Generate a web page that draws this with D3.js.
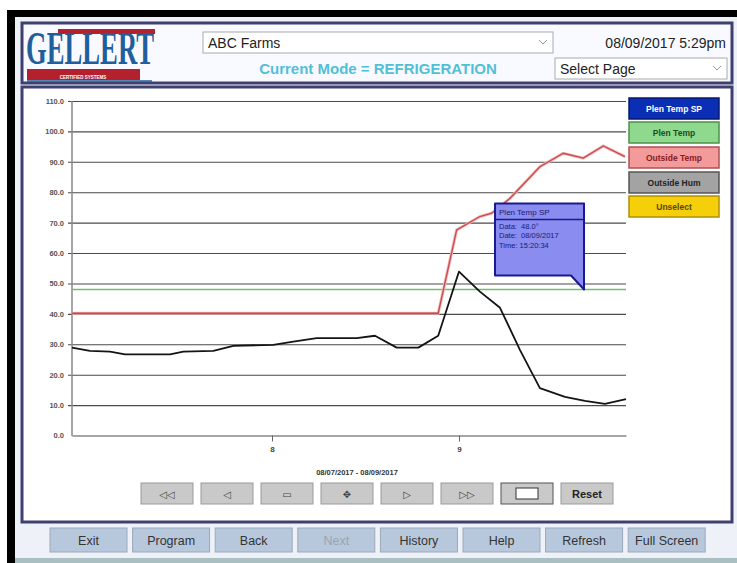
<!DOCTYPE html>
<html>
<head>
<meta charset="utf-8">
<script src="https://cdn.jsdelivr.net/npm/d3@7"></script>
<style>
  body { margin: 0; background: #fff; font-family: "Liberation Sans", Arial, sans-serif; }
</style>
</head>
<body>
<svg id="chart"></svg>
<script>
// ---- data ----
const timeDomain = ["2017-08-06 22:20", "2017-08-09 21:26"];
const dayTicks = ["2017-08-08 00:00", "2017-08-09 00:00"];
const yTicks = [0, 10, 20, 30, 40, 50, 60, 70, 80, 90, 100, 110];

// black trace
const plenTimes = ["2017-08-06 22:20", "2017-08-07 00:38", "2017-08-07 03:13", "2017-08-07 05:08",
  "2017-08-07 10:55", "2017-08-07 12:37", "2017-08-07 16:28", "2017-08-07 19:02", "2017-08-08 00:10",
  "2017-08-08 02:44", "2017-08-08 05:44", "2017-08-08 10:52", "2017-08-08 13:13", "2017-08-08 16:00",
  "2017-08-08 18:47", "2017-08-08 21:20", "2017-08-09 00:00", "2017-08-09 02:41", "2017-08-09 05:16",
  "2017-08-09 07:50", "2017-08-09 10:23", "2017-08-09 13:36", "2017-08-09 16:10", "2017-08-09 18:44",
  "2017-08-09 21:26"];
const plenValues = [28.9, 27.8, 27.6, 26.7, 26.7, 27.6, 27.8, 29.5, 29.8, 30.9, 32.0, 32.0, 32.8, 28.9,
  28.9, 32.8, 53.9, 47.3, 42.0, 28.1, 15.6, 12.7, 11.4, 10.4, 12.0];

// red trace
const outsideTimes = ["2017-08-06 22:20", "2017-08-08 21:20", "2017-08-08 23:42", "2017-08-09 02:41",
  "2017-08-09 04:12", "2017-08-09 06:33", "2017-08-09 10:23", "2017-08-09 13:23", "2017-08-09 15:57",
  "2017-08-09 18:31", "2017-08-09 21:18"];
const outsideValues = [40.2, 40.2, 67.6, 72.0, 73.1, 78.0, 88.4, 92.8, 91.2, 95.2, 91.7];

// green setpoint trace
const spTimes = ["2017-08-06 22:20", "2017-08-09 21:26"];
const spValues = [48.0, 48.0];

const legendLabels = ["Plen Temp SP", "Plen Temp", "Outside Temp", "Outside Hum", "Unselect"];
const navLabels = ["◁◁", "◁", "▭", "✥", "▷", "▷▷", "", "Reset"];
const footerLabels = ["Exit", "Program", "Back", "Next", "History", "Help", "Refresh", "Full Screen"];

const tipTitle = "Plen Temp SP";
const tipRows = ["Data:  48.0°", "Date:  08/09/2017", "Time: 15:20:34"];
const tipTime = "2017-08-09 15:55";
const tipValue = 48.0;

// ---- drawing ----
const W = 737, H = 563;
const parse = d3.timeParse("%Y-%m-%d %H:%M");
const font = '"Liberation Sans", Arial, sans-serif';

const svg = d3.select("#chart").attr("width", W).attr("height", H);

// screen frame
svg.append("rect").attr("width", W).attr("height", H).attr("fill", "#fff");
svg.append("rect").attr("x", 7).attr("y", 10).attr("width", 740).attr("height", 560).attr("fill", "#000");
svg.append("rect").attr("x", 15).attr("y", 17).attr("width", 730).attr("height", 550).attr("fill", "#eef2f8");
svg.append("rect").attr("x", 15).attr("y", 558).attr("width", 722).attr("height", 5).attr("fill", "#a9bfc2");

// header panel
svg.append("rect").attr("x", 22).attr("y", 23).attr("width", 710).attr("height", 60)
    .attr("fill", "#f9faff").attr("stroke", "#3f3f70").attr("stroke-width", 3);

// logo
const logo = svg.append("g");
logo.append("rect").attr("x", 58).attr("y", 29).attr("width", 97).attr("height", 5).attr("fill", "#b3212e");
logo.append("text").attr("transform", "translate(26,64) scale(0.58,1)")
    .attr("font-family", '"Liberation Serif", serif').attr("font-weight", "bold").attr("font-size", 46)
    .attr("fill", "#1f5f9e").text("GELLERT");
logo.append("rect").attr("x", 27).attr("y", 69).attr("width", 113).attr("height", 11).attr("fill", "#b3212e");
logo.append("text").attr("transform", "translate(83,79) scale(0.9,1)").attr("text-anchor", "middle")
    .attr("font-family", font).attr("font-weight", "bold").attr("font-size", 5)
    .attr("fill", "#fff").text("CERTIFIED SYSTEMS");
logo.append("line").attr("x1", 27).attr("x2", 152).attr("y1", 81).attr("y2", 81)
    .attr("stroke", "#1f5f9e").attr("stroke-width", 1.5);

function dropdown(x, y, w, label) {
  svg.append("rect").attr("x", x).attr("y", y).attr("width", w).attr("height", 21)
      .attr("fill", "#fff").attr("stroke", "#aaa");
  svg.append("text").attr("x", x + 5).attr("y", y + 16).attr("font-family", font)
      .attr("font-size", 14).attr("fill", "#222").text(label);
  svg.append("path").attr("d", `M${x + w - 14},${y + 8}l4,4l4,-4`)
      .attr("fill", "none").attr("stroke", "#999");
}
dropdown(203, 32, 350, "ABC Farms");
dropdown(555, 58, 172, "Select Page");

svg.append("text").attr("x", 726).attr("y", 48).attr("text-anchor", "end")
    .attr("font-family", font).attr("font-size", 14).attr("fill", "#222").text("08/09/2017 5:29pm");
svg.append("text").attr("x", 378).attr("y", 74).attr("text-anchor", "middle")
    .attr("font-family", font).attr("font-weight", "bold").attr("font-size", 15)
    .attr("fill", "#52bfd8").text("Current Mode = REFRIGERATION");

// chart panel
svg.append("rect").attr("x", 22).attr("y", 87).attr("width", 710).attr("height", 435)
    .attr("fill", "#fff").attr("stroke", "#3f3f70").attr("stroke-width", 3);

const x = d3.scaleTime().domain(timeDomain.map(parse)).range([72, 626]);
const y = d3.scaleLinear().domain([0, 110]).range([435.5, 101]);

// gridlines
svg.append("g").attr("transform", "translate(68,0)")
    .call(d3.axisLeft(y).tickValues(yTicks.slice(1)).tickSize(-(626 - 68)).tickFormat(""))
    .call(g => g.select(".domain").remove())
    .call(g => g.selectAll(".tick line").attr("stroke", "#4a4a4a").attr("stroke-width", 1.1));

// y labels
svg.append("g").attr("transform", "translate(68,0)")
    .call(d3.axisLeft(y).tickValues(yTicks).tickSize(0).tickPadding(4).tickFormat(d3.format(".1f")))
    .call(g => g.select(".domain").remove())
    .call(g => g.selectAll("text").attr("font-family", font).attr("font-weight", "bold")
        .attr("font-size", 7.5).attr("fill", "#555"));

svg.append("line").attr("x1", 72).attr("x2", 72).attr("y1", 101).attr("y2", 436)
    .attr("stroke", "#888").attr("stroke-width", 1.5);

// x axis
svg.append("g").attr("transform", "translate(0,435.5)")
    .call(d3.axisBottom(x).tickValues(dayTicks.map(parse)).tickFormat(d3.timeFormat("%-d"))
        .tickSizeInner(6).tickSizeOuter(0).tickPadding(5))
    .call(g => g.select(".domain").attr("stroke", "#888").attr("stroke-width", 1.5))
    .call(g => g.selectAll(".tick line").attr("stroke", "#666"))
    .call(g => g.selectAll("text").attr("font-family", font).attr("font-weight", "bold")
        .attr("font-size", 8).attr("fill", "#444"));

svg.append("text").attr("x", 357).attr("y", 475).attr("text-anchor", "middle")
    .attr("font-family", font).attr("font-weight", "bold").attr("font-size", 7.5)
    .attr("fill", "#333").text("08/07/2017 - 08/09/2017");

// series
const toPts = (ts, vs) => ts.map((t, i) => ({ t: parse(t), v: vs[i] }));
const line = d3.line().x(d => x(d.t)).y(d => y(d.v));

svg.append("path").datum(toPts(spTimes, spValues)).attr("d", line)
    .attr("fill", "none").attr("stroke", "#6fbf6f").attr("stroke-width", 1.6);
const outsidePts = toPts(outsideTimes, outsideValues);
svg.append("path").datum(outsidePts).attr("d", line)
    .attr("fill", "none").attr("stroke", "#f3b3b3").attr("stroke-width", 3);
svg.append("path").datum(outsidePts).attr("d", line)
    .attr("fill", "none").attr("stroke", "#c84b4b").attr("stroke-width", 1.3);
svg.append("path").datum(toPts(plenTimes, plenValues)).attr("d", line)
    .attr("fill", "none").attr("stroke", "#141414").attr("stroke-width", 1.8)
    .attr("stroke-linejoin", "round");

// legend buttons
const legFill = ["#0a2fb4", "#8fd98f", "#f39a9a", "#a3a3a3", "#f4cf0a"];
const legStroke = ["#061a70", "#4d8f4d", "#b05050", "#555", "#b09000"];
const legText = ["#fff", "#1d4d1d", "#8a1c1c", "#222", "#5a4500"];
const legY = [98, 122, 147, 172, 196];
const leg = svg.append("g").selectAll("g").data(legendLabels).join("g")
    .attr("transform", (d, i) => `translate(629,${legY[i]})`);
leg.append("rect").attr("width", 90).attr("height", 21)
    .attr("fill", (d, i) => legFill[i]).attr("stroke", (d, i) => legStroke[i]).attr("stroke-width", 1.5);
leg.append("text").attr("x", 45).attr("y", 14).attr("text-anchor", "middle")
    .attr("font-family", font).attr("font-weight", "bold").attr("font-size", 8.5)
    .attr("fill", (d, i) => legText[i]).text(d => d);

// tooltip
const tx = x(parse(tipTime)), ty = y(tipValue);
const tip = svg.append("g").attr("transform", `translate(${tx},${ty})`);
tip.append("path").attr("d", "M-88,-86H1V-14H1V0L-12,-14H-88Z")
    .attr("fill", "#8a8cf0").attr("stroke", "#1a1a90").attr("stroke-width", 2).attr("stroke-linejoin", "round");
tip.append("line").attr("x1", -88).attr("x2", 1).attr("y1", -70).attr("y2", -70)
    .attr("stroke", "#1a1a90").attr("stroke-width", 1.5);
tip.append("text").attr("x", -84).attr("y", -75).attr("font-family", font).attr("font-size", 8)
    .attr("fill", "#1a1a70").text(tipTitle);
tip.selectAll(".row").data(tipRows).join("text").attr("class", "row")
    .attr("x", -84).attr("y", (d, i) => -61 + i * 9.5).attr("font-family", font).attr("font-size", 7.5)
    .attr("fill", "#1a1a70").attr("xml:space", "preserve").text(d => d);

// nav buttons
const nav = svg.append("g").selectAll("g").data(navLabels).join("g")
    .attr("transform", (d, i) => `translate(${141 + i * 60},483)`);
nav.append("rect").attr("width", 52).attr("height", 21)
    .attr("fill", "#c9c9c9").attr("stroke", (d, i) => i === 6 ? "#555" : "#9a9a9a");
nav.append("text").attr("x", 26).attr("y", 15).attr("text-anchor", "middle")
    .attr("font-family", (d, i) => i === 7 ? font : '"DejaVu Sans", sans-serif')
    .attr("font-weight", (d, i) => i === 7 ? "bold" : "normal")
    .attr("font-size", (d, i) => i === 7 ? 11 : 10)
    .attr("fill", (d, i) => i === 7 ? "#222" : "#444").text(d => d);
nav.filter((d, i) => i === 6).append("rect").attr("x", 15).attr("y", 5).attr("width", 22).attr("height", 11)
    .attr("fill", "#fff").attr("stroke", "#333");

// footer buttons
const foot = svg.append("g").selectAll("g").data(footerLabels).join("g")
    .attr("transform", (d, i) => `translate(${50 + i * 82.6},528)`);
foot.append("rect").attr("width", 77).attr("height", 24)
    .attr("fill", "#b8c8dc").attr("stroke", "#9aa8b8");
foot.append("text").attr("x", 38.5).attr("y", 17).attr("text-anchor", "middle")
    .attr("font-family", font).attr("font-size", 12.5)
    .attr("fill", d => d === "Next" ? "#98a4b0" : "#333").text(d => d);
</script>
</body>
</html>
